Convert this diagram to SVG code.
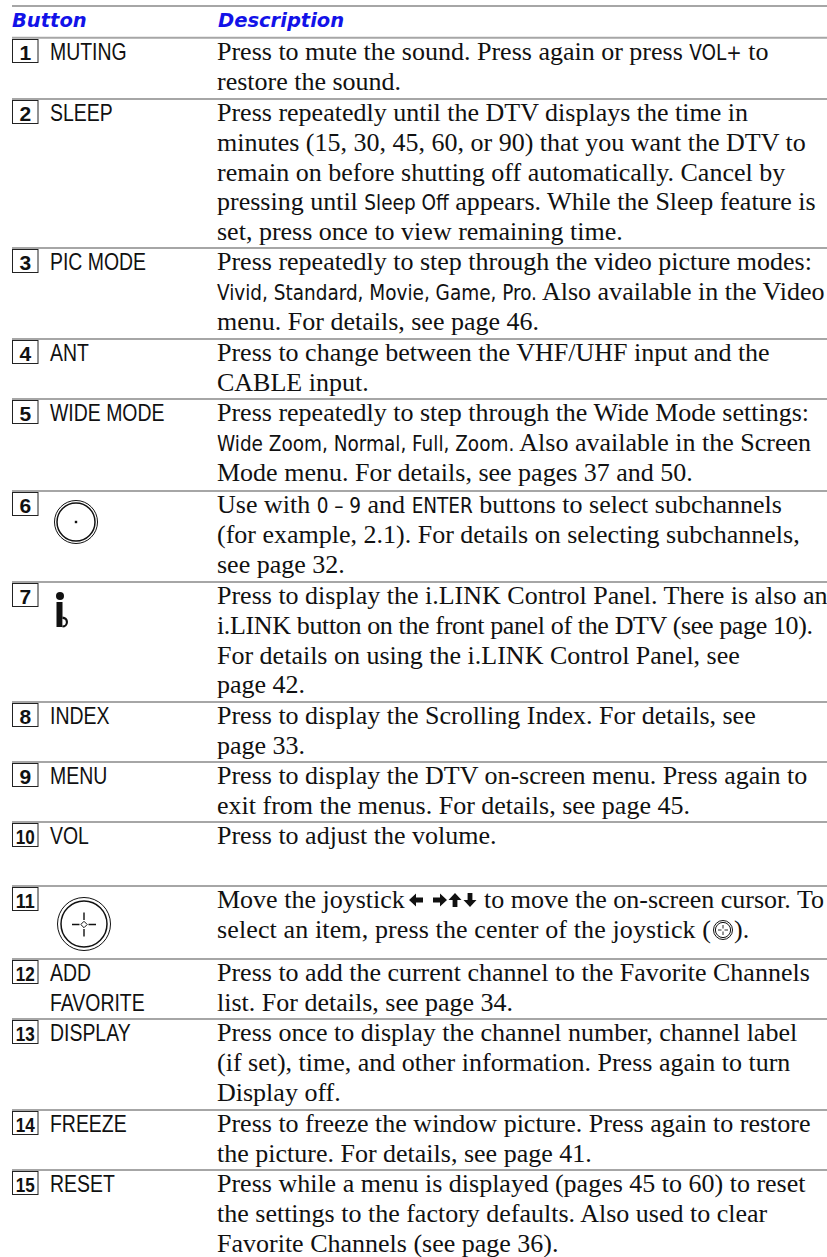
<svg xmlns="http://www.w3.org/2000/svg" width="827" height="1257" viewBox="0 0 827 1257">
<style>
.hd{font-family:"DejaVu Sans","Verdana",sans-serif;font-weight:bold;font-style:italic;font-size:19.5px;fill:#1212e8}
.d{font-family:"Liberation Serif","Times New Roman",serif;font-size:26px;fill:#111}
.s{font-family:"DejaVu Sans Condensed","DejaVu Sans",sans-serif;font-stretch:condensed;font-size:20.5px}
.lb{font-family:"Liberation Sans","Arial",sans-serif;font-size:24px;fill:#111}
.n{font-family:"Liberation Sans","Arial",sans-serif;font-weight:bold;font-size:21px;fill:#111;text-anchor:middle}
.box{fill:none;stroke:#222;stroke-width:1}
.rule{stroke:#a6a6a6;stroke-width:2}
.c1{fill:none;stroke:#111;stroke-width:1}
.c2{fill:none;stroke:#111;stroke-width:1.5}
</style>
<defs>
<path id="arr" d="M-7,-2.4 H0 V-6.5 L7,0 L0,6.5 V2.4 H-7 Z" fill="#111"/>
</defs>
<rect width="827" height="1257" fill="#fff"/>
<g id="rules">
<line class="rule" x1="12" y1="6" x2="827" y2="6"/>
<line class="rule" x1="12" y1="37.7" x2="827" y2="37.7"/>
<line class="rule" x1="12" y1="99" x2="827" y2="99"/>
<line class="rule" x1="12" y1="248" x2="827" y2="248"/>
<line class="rule" x1="12" y1="339" x2="827" y2="339"/>
<line class="rule" x1="12" y1="399" x2="827" y2="399"/>
<line class="rule" x1="12" y1="491" x2="827" y2="491"/>
<line class="rule" x1="12" y1="582" x2="827" y2="582"/>
<line class="rule" x1="12" y1="702" x2="827" y2="702"/>
<line class="rule" x1="12" y1="762" x2="827" y2="762"/>
<line class="rule" x1="12" y1="822" x2="827" y2="822"/>
<line class="rule" x1="12" y1="886" x2="827" y2="886"/>
<line class="rule" x1="12" y1="959" x2="827" y2="959"/>
<line class="rule" x1="12" y1="1019" x2="827" y2="1019"/>
<line class="rule" x1="12" y1="1110" x2="827" y2="1110"/>
<line class="rule" x1="12" y1="1170" x2="827" y2="1170"/>
</g>
<g id="header">
<text class="hd" x="12" y="27">Button</text>
<text class="hd" x="218" y="27">Description</text>
</g>
<g id="row1">
<rect class="box" x="12.5" y="39.5" width="25.5" height="23"/><text class="n" x="25.3" y="59.5">1</text>
<text class="lb" transform="translate(50,60) scale(0.81,1)">MUTING</text>
<text class="d" x="217" y="60">Press to mute the sound. Press again or press <tspan class="s">VOL+</tspan> to</text>
<text class="d" x="217" y="89.8">restore the sound.</text>
</g>
<g id="row2">
<rect class="box" x="12.5" y="100.5" width="25.5" height="23"/><text class="n" x="25.3" y="120.5">2</text>
<text class="lb" transform="translate(50,121) scale(0.81,1)">SLEEP</text>
<text class="d" x="217" y="121">Press repeatedly until the DTV displays the time in</text>
<text class="d" x="217" y="150.8">minutes (15, 30, 45, 60, or 90) that you want the DTV to</text>
<text class="d" x="217" y="180.6">remain on before shutting off automatically. Cancel by</text>
<text class="d" x="217" y="210.4">pressing until <tspan class="s">Sleep Off</tspan> appears. While the Sleep feature is</text>
<text class="d" x="217" y="240.2">set, press once to view remaining time.</text>
</g>
<g id="row3">
<rect class="box" x="12.5" y="249.5" width="25.5" height="23"/><text class="n" x="25.3" y="269.5">3</text>
<text class="lb" transform="translate(50,270) scale(0.81,1)">PIC MODE</text>
<text class="d" x="217" y="270">Press repeatedly to step through the video picture modes:</text>
<text class="d" x="217" y="299.8"><tspan class="s">Vivid, Standard, Movie, Game, Pro.</tspan> Also available in the Video</text>
<text class="d" x="217" y="329.6">menu. For details, see page 46.</text>
</g>
<g id="row4">
<rect class="box" x="12.5" y="340.5" width="25.5" height="23"/><text class="n" x="25.3" y="360.5">4</text>
<text class="lb" transform="translate(50,361) scale(0.81,1)">ANT</text>
<text class="d" x="217" y="361">Press to change between the VHF/UHF input and the</text>
<text class="d" x="217" y="390.8">CABLE input.</text>
</g>
<g id="row5">
<rect class="box" x="12.5" y="400.5" width="25.5" height="23"/><text class="n" x="25.3" y="420.5">5</text>
<text class="lb" transform="translate(50,421) scale(0.81,1)">WIDE MODE</text>
<text class="d" x="217" y="421">Press repeatedly to step through the Wide Mode settings:</text>
<text class="d" x="217" y="450.8"><tspan class="s">Wide Zoom, Normal, Full, Zoom.</tspan> Also available in the Screen</text>
<text class="d" x="217" y="480.6">Mode menu. For details, see pages 37 and 50.</text>
</g>
<g id="row6">
<rect class="box" x="12.5" y="492.5" width="25.5" height="23"/><text class="n" x="25.3" y="512.5">6</text>
<circle class="c1" cx="76" cy="522" r="21.5"/>
<circle class="c2" cx="76" cy="522" r="19"/>
<rect x="74.8" y="520.8" width="2.4" height="2.4" fill="#111"/>
<text class="d" x="217" y="513">Use with <tspan class="s">0 – 9</tspan> and <tspan class="s">ENTER</tspan> buttons to select subchannels</text>
<text class="d" x="217" y="542.8">(for example, 2.1). For details on selecting subchannels,</text>
<text class="d" x="217" y="572.6">see page 32.</text>
</g>
<g id="row7">
<rect class="box" x="12.5" y="583.5" width="25.5" height="23"/><text class="n" x="25.3" y="603.5">7</text>
<circle cx="60" cy="596" r="4" fill="#111"/>
<rect x="56.5" y="602" width="6" height="25" fill="#111"/>
<path d="M62.5,616.5 A5.5,5.5 0 0 1 62.5,627.5 Z" fill="#111"/>
<path d="M62.5,619 A3.3,3.3 0 0 1 62.5,625.6 Z" fill="#fff"/>
<text class="d" x="217" y="604">Press to display the i.LINK Control Panel. There is also an</text>
<text class="d" x="217" y="633.8" textLength="596" lengthAdjust="spacing">i.LINK button on the front panel of the DTV (see page 10).</text>
<text class="d" x="217" y="663.6">For details on using the i.LINK Control Panel, see</text>
<text class="d" x="217" y="693.4">page 42.</text>
</g>
<g id="row8">
<rect class="box" x="12.5" y="703.5" width="25.5" height="23"/><text class="n" x="25.3" y="723.5">8</text>
<text class="lb" transform="translate(50,724) scale(0.81,1)">INDEX</text>
<text class="d" x="217" y="724">Press to display the Scrolling Index. For details, see</text>
<text class="d" x="217" y="753.8">page 33.</text>
</g>
<g id="row9">
<rect class="box" x="12.5" y="763.5" width="25.5" height="23"/><text class="n" x="25.3" y="783.5">9</text>
<text class="lb" transform="translate(50,784) scale(0.81,1)">MENU</text>
<text class="d" x="217" y="784">Press to display the DTV on-screen menu. Press again to</text>
<text class="d" x="217" y="813.8">exit from the menus. For details, see page 45.</text>
</g>
<g id="row10">
<rect class="box" x="12.5" y="823.5" width="25.5" height="23"/><text class="n" x="25.3" y="843.5" textLength="19" lengthAdjust="spacingAndGlyphs">10</text>
<text class="lb" transform="translate(50,844) scale(0.81,1)">VOL</text>
<text class="d" x="217" y="844">Press to adjust the volume.</text>
</g>
<g id="row11">
<rect class="box" x="12.5" y="887.5" width="25.5" height="23"/><text class="n" x="25.3" y="907.5" textLength="19" lengthAdjust="spacingAndGlyphs">11</text>
<circle class="c1" cx="84" cy="924" r="26.5"/>
<circle class="c2" cx="84" cy="924" r="23"/>
<path d="M84,912.5 V920 M84,929 V936.5 M72,924.5 H79.5 M88.5,924.5 H96" stroke="#111" stroke-width="1.4"/>
<path d="M84,921.3 L87.2,924.5 L84,927.7 L80.8,924.5 Z" fill="none" stroke="#111" stroke-width="1"/>
<text class="d" x="217" y="908">Move the joystick</text>
<use href="#arr" transform="translate(416,900) rotate(180)"/>
<use href="#arr" transform="translate(440,900)"/>
<use href="#arr" transform="translate(455,900) rotate(-90)"/>
<use href="#arr" transform="translate(470,900) rotate(90)"/>
<text class="d" x="484" y="908">to move the on-screen cursor. To</text>
<text class="d" x="217" y="937.8" textLength="494" lengthAdjust="spacing">select an item, press the center of the joystick (</text>
<circle class="c1" cx="723" cy="930" r="9.5"/>
<circle class="c1" cx="723" cy="930" r="7.6" stroke-width="1.2"/>
<path d="M723,925 V928.5 M723,931.5 V935 M718,930 H721.5 M724.5,930 H728" stroke="#111" stroke-width="0.9"/>
<text class="d" x="734" y="937.8">).</text>
</g>
<g id="row12">
<rect class="box" x="12.5" y="960.5" width="25.5" height="23"/><text class="n" x="25.3" y="980.5" textLength="19" lengthAdjust="spacingAndGlyphs">12</text>
<text class="lb" transform="translate(50,981) scale(0.81,1)">ADD</text>
<text class="lb" transform="translate(50,1010.8) scale(0.81,1)">FAVORITE</text>
<text class="d" x="217" y="981">Press to add the current channel to the Favorite Channels</text>
<text class="d" x="217" y="1010.8">list. For details, see page 34.</text>
</g>
<g id="row13">
<rect class="box" x="12.5" y="1020.5" width="25.5" height="23"/><text class="n" x="25.3" y="1040.5" textLength="19" lengthAdjust="spacingAndGlyphs">13</text>
<text class="lb" transform="translate(50,1041) scale(0.81,1)">DISPLAY</text>
<text class="d" x="217" y="1041">Press once to display the channel number, channel label</text>
<text class="d" x="217" y="1070.8">(if set), time, and other information. Press again to turn</text>
<text class="d" x="217" y="1100.6">Display off.</text>
</g>
<g id="row14">
<rect class="box" x="12.5" y="1111.5" width="25.5" height="23"/><text class="n" x="25.3" y="1131.5" textLength="19" lengthAdjust="spacingAndGlyphs">14</text>
<text class="lb" transform="translate(50,1132) scale(0.81,1)">FREEZE</text>
<text class="d" x="217" y="1132">Press to freeze the window picture. Press again to restore</text>
<text class="d" x="217" y="1161.8">the picture. For details, see page 41.</text>
</g>
<g id="row15">
<rect class="box" x="12.5" y="1171.5" width="25.5" height="23"/><text class="n" x="25.3" y="1191.5" textLength="19" lengthAdjust="spacingAndGlyphs">15</text>
<text class="lb" transform="translate(50,1192) scale(0.81,1)">RESET</text>
<text class="d" x="217" y="1192">Press while a menu is displayed (pages 45 to 60) to reset</text>
<text class="d" x="217" y="1221.8">the settings to the factory defaults. Also used to clear</text>
<text class="d" x="217" y="1251.6">Favorite Channels (see page 36).</text>
</g>
</svg>
